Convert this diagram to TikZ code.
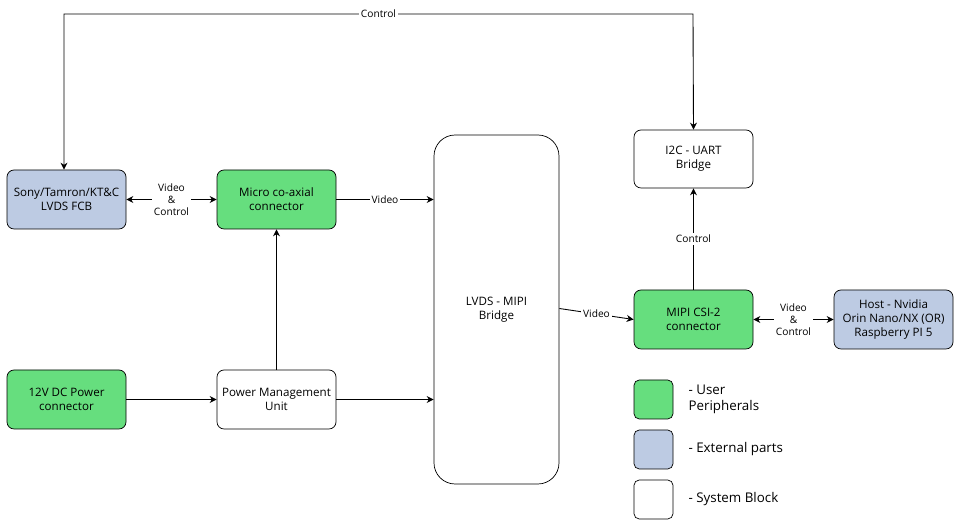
\documentclass[tikz,border=0pt]{standalone}
\usepackage{fontspec}
\setmainfont{Open Sans}
\usetikzlibrary{arrows.meta}
\definecolor{usergreen}{HTML}{66DE7E}
\definecolor{extblue}{HTML}{BDCBE3}
\tikzset{
  blk/.style={draw, rounded corners=4pt, minimum width=119*0.02cm, minimum height=59*0.02cm, align=center, font=\fontsize{6.6}{8}\selectfont, inner sep=1pt},
  conn/.style={-{Stealth[length=4pt,width=4pt]}, line width=0.5pt},
  lbl/.style={fill=white, inner sep=1pt, align=center, font=\fontsize{5.8}{7}\selectfont},
  leg/.style={draw, rounded corners=3pt, minimum width=39*0.02cm, minimum height=39*0.02cm},
  legtxt/.style={anchor=west, align=left, font=\fontsize{7.6}{9}\selectfont}
}
\begin{document}
\begin{tikzpicture}[x=0.02cm, y=-0.02cm]
  \useasboundingbox (0,0) rectangle (961,526);
  % blocks
  \node[blk, fill=extblue] (fcb) at (66.5,199.5) {Sony/Tamron/KT\&C\\LVDS FCB};
  \node[blk, fill=usergreen] (coax) at (276.5,199.5) {Micro co-axial\\connector};
  \node[blk, minimum width=125*0.02cm, minimum height=349*0.02cm, rounded corners=12pt] (bridge) at (496.5,309.5) {LVDS - MIPI\\Bridge};
  \node[blk, minimum height=58*0.02cm] (uart) at (693.5,159) {I2C - UART\\Bridge};
  \node[blk, fill=usergreen] (csi) at (693.5,319.5) {MIPI CSI-2\\connector};
  \node[blk, fill=extblue] (host) at (893.5,319.5) {Host - Nvidia\\Orin Nano/NX (OR)\\Raspberry PI 5};
  \node[blk, fill=usergreen] (power) at (66.5,399.5) {12V DC Power\\connector};
  \node[blk] (pmu) at (276.5,399.5) {Power Management\\Unit};
  % connectors
  \coordinate (c1) at (64,14);
  \coordinate (c2) at (693,14);
  \draw[conn, {Stealth[length=4pt,width=4pt]}-{Stealth[length=4pt,width=4pt]}] ([xshift=-2.5*0.02cm]fcb.north) -- (c1) -- node[lbl] {Control} (c2) -- (uart.north);
  \draw[conn, {Stealth[length=4pt,width=4pt]}-{Stealth[length=4pt,width=4pt]}] (fcb) -- node[lbl] {Video\\\&\\Control} (coax);
  \draw[conn] (coax.east) -- node[lbl] {Video} (coax.east -| bridge.west);
  \draw[conn] (pmu) -- (coax);
  \draw[conn] (power) -- (pmu);
  \draw[conn] (pmu.east) -- (pmu.east -| bridge.west);
  \draw[conn] ([yshift=1*0.02cm]bridge.east) -- node[lbl] {Video} (csi.west);
  \draw[conn] (csi) -- node[lbl] {Control} (uart);
  \draw[conn, {Stealth[length=4pt,width=4pt]}-{Stealth[length=4pt,width=4pt]}] (csi) -- node[lbl] {Video\\\&\\Control} (host);
  % legend
  \node[leg, fill=usergreen] (lg1) at (653.5,399.5) {};
  \node[leg, fill=extblue] (lg2) at (653.5,449.5) {};
  \node[leg] (lg3) at (653.5,499.5) {};
  \node[legtxt] at ([xshift=9*0.02cm]lg1.east) {- User\\Peripherals};
  \node[legtxt] at ([xshift=9*0.02cm]lg2.east) {- External parts};
  \node[legtxt] at ([xshift=9*0.02cm]lg3.east) {- System Block};
\end{tikzpicture}
\end{document}
